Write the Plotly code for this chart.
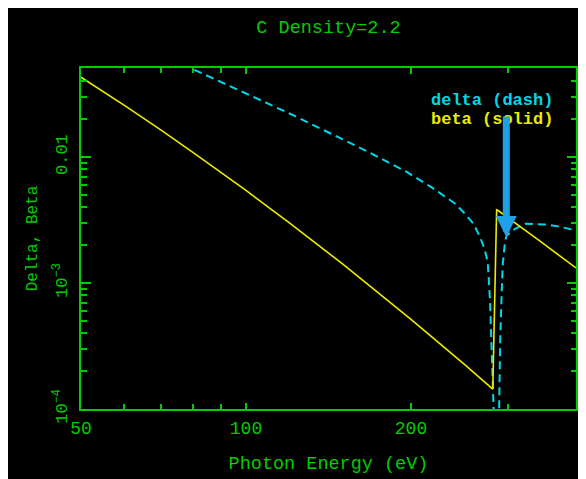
import plotly.graph_objects as go

# ---- data ----
beta_energy = [50.0, 60.0, 70.0, 80.0, 100.0, 120.0, 150.0, 200.0, 250.0, 282.0,
               286.6, 288.8, 341.5, 400.0]
beta_values = [0.0431, 0.02576, 0.01637, 0.01092, 0.005438, 0.003006, 0.001419,
               0.000515, 0.000227, 0.000144, 0.00382, 0.00375, 0.0022, 0.00132]

delta_energy = [80.5, 91.3, 101.8, 120.3, 141.7, 167.0, 196.7, 217.8, 240.2, 250.4,
                260.0, 267.4, 272.3, 276.1, 278.7, 280.8, 282.2, 283.0, 284.5,
                288.5, 289.6, 290.9, 292.8, 294.1, 297.0, 299.0, 309.7, 322.9,
                351.1, 371.2, 400.0]
delta_values = [0.0494, 0.0387, 0.0309, 0.02212, 0.01571, 0.01104, 0.0076, 0.00578,
                0.00431, 0.00359, 0.00296, 0.00232, 0.00187, 0.001466, 0.000728,
                0.000319, 0.00014, 0.0001, 0.00002, 0.00002, 0.0001, 0.00035,
                0.00087, 0.00142, 0.00218, 0.00239, 0.0027, 0.00296, 0.00292,
                0.00282, 0.00262]

x_tickvals = [50, 100, 200]
x_ticktext = ["50", "100", "200"]
x_minor = [60, 70, 80, 90, 300]
y_tickvals = [1e-4, 1e-3, 1e-2]
y_ticktext = ["10<sup>\u22124</sup>", "10<sup>\u22123</sup>", "0.01"]
y_minor = [k * 1e-4 for k in range(2, 10)] + [k * 1e-3 for k in range(2, 10)] + [0.02, 0.03, 0.04]

title_text = "C Density=2.2"
x_title = "Photon Energy (eV)"
y_title = "Delta, Beta"
legend_delta = "delta (dash)"
legend_beta = "beta (solid)"

GREEN = "#00cc00"
CYAN = "#00d8ea"
YELLOW = "#ecec00"
ARROW = "#1ea0e6"
FONT = "Liberation Mono"

fig = go.Figure()
fig.add_trace(go.Scatter(x=delta_energy, y=delta_values, mode="lines",
                         line=dict(color=CYAN, width=2, dash="8px,5px"),
                         hoverinfo="skip", showlegend=False))
fig.add_trace(go.Scatter(x=beta_energy, y=beta_values, mode="lines",
                         line=dict(color=YELLOW, width=1.6),
                         hoverinfo="skip", showlegend=False))

# the page body adds an 8px offset; the figure fills the rest of the window
W, H = 578, 471
ml, mr, mt, mb = 73, 8, 60, 70
pw, ph = W - ml - mr, H - mt - mb
OFF = 8

def px_to_paper(px, py):
    # px, py in window pixels
    return (px - OFF - ml) / pw, (H - mb - (py - OFF)) / ph

fig.update_layout(
    width=W, height=H,
    margin=dict(l=ml, r=mr, t=mt, b=mb),
    paper_bgcolor="black", plot_bgcolor="black",
    font=dict(family=FONT, color=GREEN),
    title=dict(text=title_text, x=0.5, xref="paper", y=1 - (27 - OFF) / H, yref="container",
               xanchor="center", yanchor="middle",
               font=dict(family=FONT, size=18.5, color=GREEN)),
    showlegend=False,
)

fig.update_xaxes(type="log", range=[1.69897, 2.60206],
                 tickvals=x_tickvals, ticktext=x_ticktext,
                 ticks="inside", ticklen=6, tickwidth=1.5, tickcolor=GREEN,
                 minor=dict(tickvals=x_minor, ticks="inside", ticklen=5, tickwidth=1.5, tickcolor=GREEN),
                 showline=True, linecolor=GREEN, linewidth=2, mirror="ticks",
                 showgrid=False, zeroline=False,
                 tickfont=dict(family=FONT, size=18, color=GREEN),
                 ticklabelstandoff=1,
                 title=dict(text=x_title, standoff=18, font=dict(family=FONT, size=18.5, color=GREEN)))

fig.update_yaxes(type="log", range=[-4, -1.292],
                 tickvals=y_tickvals, ticktext=y_ticktext, tickangle=-90,
                 ticks="inside", ticklen=9.5, tickwidth=1.5, tickcolor=GREEN,
                 minor=dict(tickvals=y_minor, ticks="inside", ticklen=5.5, tickwidth=1.5, tickcolor=GREEN),
                 showline=True, linecolor=GREEN, linewidth=2, mirror="ticks",
                 showgrid=False, zeroline=False,
                 tickfont=dict(family=FONT, size=17, color=GREEN),
                 ticklabelstandoff=5,
                 title=dict(text=y_title, standoff=8, font=dict(family=FONT, size=16, color=GREEN)))

# legend-style labels
lx, ly = px_to_paper(430, 100)
fig.add_annotation(xref="paper", yref="paper", x=lx, y=ly, xanchor="left", yanchor="middle",
                   text="<b>" + legend_delta + "</b>", showarrow=False,
                   font=dict(family=FONT, size=17, color=CYAN))
lx, ly = px_to_paper(430, 119.5)
fig.add_annotation(xref="paper", yref="paper", x=lx, y=ly, xanchor="left", yanchor="middle",
                   text="<b>" + legend_beta + "</b>", showarrow=False,
                   font=dict(family=FONT, size=17, color=YELLOW))

# blue arrow pointing at the edge
tx, ty = px_to_paper(508, 237)
fig.add_annotation(xref="paper", yref="paper", x=tx, y=ty, text="", showarrow=True,
                   ax=0, ay=-122, arrowhead=2, arrowsize=0.6, arrowwidth=7,
                   arrowcolor=ARROW)

fig.write_html("out.html", config={"displayModeBar": False})
